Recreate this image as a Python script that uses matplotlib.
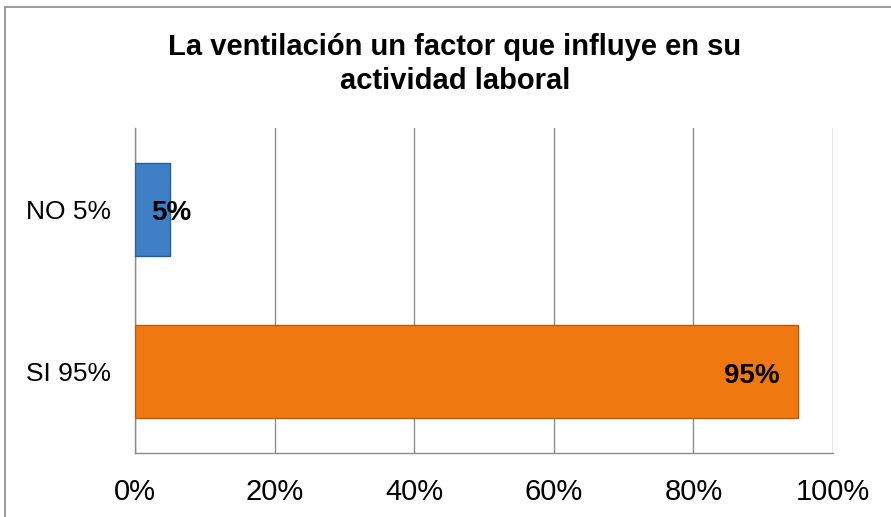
import matplotlib
matplotlib.use("Agg")
import matplotlib.pyplot as plt
from matplotlib.patches import Rectangle

categories = ["SI 95%", "NO 5%"]
values = [95, 5]
labels = ["95%", "5%"]
colors = ["#F07810", "#3F7FC6"]
edges = ["#B85A08", "#2B5C94"]
xticks = [0, 20, 40, 60, 80, 100]
title = "La ventilación un factor que influye en su\nactividad laboral"

plt.rcParams['font.family'] = ['Liberation Sans', 'DejaVu Sans']

fig = plt.figure(figsize=(8.91, 5.17), dpi=100)
fig.patch.set_facecolor("white")
fig.patches.append(Rectangle((5/891, -0.05), 1.0, 1 - 7/517 + 0.05, transform=fig.transFigure,
                             fill=False, edgecolor="#8c8c8c", linewidth=1.2))

ax = fig.add_axes([135/891, 1 - 453/517, (833 - 135)/891, (453 - 128)/517])
ypos = list(range(len(categories)))
ax.barh(ypos, values, height=0.57, color=colors, edgecolor=edges, linewidth=1.0, zorder=3)

for y, v, lab in zip(ypos, values, labels):
    if v > 20:
        ax.annotate(lab, (v, y), xytext=(-13, -3), textcoords="offset points",
                    ha="right", va="center", fontsize=20, fontweight="bold", zorder=4)
    else:
        ax.annotate(lab, (v, y), xytext=(1, -3), textcoords="offset points",
                    ha="center", va="center", fontsize=20, fontweight="bold", zorder=4)

ax.set_xlim(0, 100)
ax.set_ylim(-0.5, len(categories) - 0.5)
ax.set_xticks(xticks)
ax.set_xticklabels([f"{t}%" for t in xticks], fontsize=21)
ax.set_yticks(ypos)
ax.set_yticklabels(categories, fontsize=19)
ax.tick_params(axis="both", length=0)
ax.tick_params(axis="x", pad=18)
ax.tick_params(axis="y", pad=17)
ax.grid(axis="x", color="#8c8c8c", linewidth=1.0, zorder=0)
for s in ["top", "right"]:
    ax.spines[s].set_visible(False)
for s in ["left", "bottom"]:
    ax.spines[s].set_color("#8c8c8c")
    ax.spines[s].set_linewidth(1.0)

fig.text(455/891, 1 - 64/517, title, ha="center", va="center", fontsize=21,
         fontweight="bold", linespacing=1.3)

fig.savefig("out.png", dpi=100)
